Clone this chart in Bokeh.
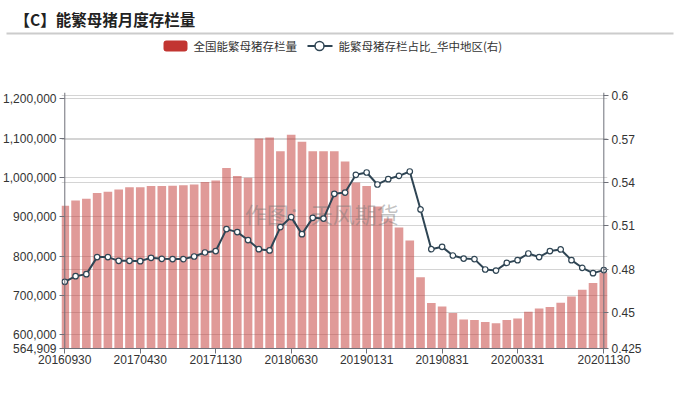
from bokeh.plotting import figure
from bokeh.layouts import column
from bokeh.models import (Range1d, LinearAxis, FixedTicker, NumeralTickFormatter,
                          CustomJSTickFormatter, Grid, Span, ColumnDataSource)
from bokeh.core.properties import value
from bokeh.embed import file_html
from bokeh.resources import INLINE

# ---------------- data ----------------
dates = [
    "20160930", "20161031", "20161130", "20161231",
    "20170131", "20170228", "20170331", "20170430", "20170531", "20170630",
    "20170731", "20170831", "20170930", "20171031", "20171130", "20171231",
    "20180131", "20180228", "20180331", "20180430", "20180531", "20180630",
    "20180731", "20180831", "20180930", "20181031", "20181130", "20181231",
    "20190131", "20190228", "20190331", "20190430", "20190531", "20190630",
    "20190731", "20190831", "20190930", "20191031", "20191130", "20191231",
    "20200131", "20200229", "20200331", "20200430", "20200531", "20200630",
    "20200731", "20200831", "20200930", "20201031", "20201130",
]
stock = [
    928000, 941500, 946000, 960500, 964000, 969500, 975000, 975000, 978500, 978500,
    979000, 980000, 982500, 988500, 992500, 1024000, 1004000, 999500, 1099500, 1101500,
    1066500, 1109000, 1091000, 1066500, 1066500, 1066500, 1041000, 987500, 978500, 926500,
    896000, 872500, 840000, 746000, 680500, 671500, 655000, 639000, 637500, 632500,
    629000, 637500, 641500, 658500, 667000, 670500, 681500, 697500, 714500, 731500, 758000,
]
share = [
    0.4712, 0.4751, 0.4765, 0.4883, 0.4883, 0.4857, 0.4857, 0.4855, 0.4878, 0.4871,
    0.4869, 0.4869, 0.4887, 0.4915, 0.4925, 0.5077, 0.5056, 0.5001, 0.4938, 0.4929,
    0.5091, 0.5160, 0.5042, 0.5155, 0.5150, 0.5321, 0.5330, 0.5453, 0.5469, 0.5386,
    0.5423, 0.5446, 0.5476, 0.5213, 0.4938, 0.4954, 0.4894, 0.4873, 0.4869, 0.4797,
    0.4790, 0.4843, 0.4862, 0.4908, 0.4883, 0.4925, 0.4936, 0.4862, 0.4809, 0.4772, 0.4793,
]
x_tick_idx = [0, 7, 14, 21, 28, 35, 42, 50]
left_ticks = [564909, 600000, 700000, 800000, 900000, 1000000, 1100000, 1200000]
right_ticks = [0.425, 0.45, 0.48, 0.51, 0.54, 0.57, 0.6]
left_min, left_max = 564909, 1216300
right_min, right_max = 0.425, 0.6023
series_names = ["全国能繁母猪存栏量", "能繁母猪存栏占比_华中地区(右)"]
title_text = "【C】能繁母猪月度存栏量"
watermark_text = "作图：天风期货"

# ---------------- layout constants (page pixels) ----------------
W = 679
H_TOP = 56
H_MAIN = 393 - H_TOP
FL, FR, FT, FB = 59, 607, 92, 348          # frame edges of the chart (page px)
C0, C1 = 62.3, 603.3                       # first / last category centre (page px)
step = (C1 - C0) / (len(dates) - 1)
x_start = -(C0 - FL) / step
x_end = (len(dates) - 1) + (FR - C1) / step

BAR = "#c23531"
LINE = "#2f4554"
AX = "#6e7079"
TXT = "#333333"
GRID = "#d4d4d4"
CJK = "Noto Sans CJK SC"
LAT = "Liberation Sans"

# ================= header figure: title, separator, legend =================
hd = figure(width=W, height=H_TOP, output_backend="svg", toolbar_location=None,
            title=None, x_axis_type=None, y_axis_type=None,
            x_range=Range1d(0, W), y_range=Range1d(H_TOP, 0),
            min_border=0)
hd.frame_align = False
hd.outline_line_color = None
hd.background_fill_color = "white"
hd.border_fill_color = "white"

hd.text(x=[14], y=[18], text=[title_text], text_font=value(CJK),
        text_font_style="bold", text_font_size="15.5px", text_color="#222222",
        text_baseline="middle", text_align="left")
hd.segment(x0=[6], y0=[33], x1=[673], y1=[33], line_color="#cccccc", line_width=2)
hd.quad(left=[163], right=[187], top=[40], bottom=[51], fill_color=BAR,
        line_color=None, border_radius=3)
hd.text(x=[193], y=[45.5], text=[series_names[0]], text_font=value(CJK),
        text_font_size="11.5px", text_color=TXT, text_baseline="middle", text_align="left")
hd.line(x=[307, 332], y=[45.5, 45.5], line_color=LINE, line_width=2)
hd.scatter(x=[319], y=[45.5], size=9, fill_color="white", line_color=LINE, line_width=1.5)
hd.text(x=[338], y=[45.5], text=[series_names[1]], text_font=value(CJK),
        text_font_size="11.5px", text_color=TXT, text_baseline="middle", text_align="left")

# ================= main chart =================
p = figure(width=W, height=H_MAIN, output_backend="svg", toolbar_location=None,
           title=None,
           x_range=Range1d(x_start, x_end),
           y_range=Range1d(left_min, left_max),
           min_border_left=FL, min_border_right=W - FR,
           min_border_top=FT - H_TOP, min_border_bottom=H_TOP + H_MAIN - FB)
p.frame_align = False
p.outline_line_color = None
p.background_fill_color = "white"
p.border_fill_color = "white"

p.extra_y_ranges = {"right": Range1d(right_min, right_max),
                    "px_y": Range1d(FB, FT)}
p.extra_x_ranges = {"px_x": Range1d(FL, FR)}

src = ColumnDataSource(dict(x=list(range(len(dates))), stock=stock, share=share))

# grids
p.xgrid.visible = False
p.ygrid.ticker = FixedTicker(ticks=left_ticks)
p.ygrid.grid_line_color = GRID
p.ygrid.grid_line_width = 1
rgrid = Grid(dimension=1, ticker=FixedTicker(ticks=right_ticks), y_range_name="right",
             grid_line_color=GRID, grid_line_width=1)
p.add_layout(rgrid)

# bars
p.vbar(x="x", top="stock", bottom=left_min, width=0.8, source=src,
       fill_color=BAR, fill_alpha=0.5, line_color=None)

# watermark (above the bars, below the line)
p.text(x=[243], y=[212], text=[watermark_text], x_range_name="px_x", y_range_name="px_y",
       text_font=value(CJK), text_font_size="22px", text_color="#777777",
       text_alpha=0.45, text_baseline="middle", text_align="left")

# line
p.line("x", "share", source=src, y_range_name="right", line_color=LINE, line_width=2)
p.scatter("x", "share", source=src, y_range_name="right", size=5.5,
          fill_color="white", line_color=LINE, line_width=1.2)

# axis lines at the first / last category centres
p.add_layout(Span(location=0, dimension="height", line_color=AX, line_width=1))
p.add_layout(Span(location=len(dates) - 1, dimension="height", line_color=AX, line_width=1))

# bottom axis
xa = p.xaxis[0]
xa.ticker = FixedTicker(ticks=x_tick_idx)
xa.major_label_overrides = {i: dates[i] for i in x_tick_idx}
xa.minor_tick_line_color = None
xa.major_tick_in = 0
xa.major_tick_out = 5
xa.major_tick_line_color = AX
xa.axis_line_color = AX
xa.major_label_standoff = 1
xa.major_label_text_font = LAT
xa.major_label_text_font_size = "12px"
xa.major_label_text_color = TXT

# left axis
ya = p.yaxis[0]
ya.ticker = FixedTicker(ticks=left_ticks)
ya.formatter = NumeralTickFormatter(format="0,0")
ya.axis_line_color = None
ya.minor_tick_line_color = None
ya.major_tick_in = 3
ya.major_tick_out = 2
ya.major_tick_line_color = AX
ya.major_label_standoff = 3
ya.major_label_text_font = LAT
ya.major_label_text_font_size = "12px"
ya.major_label_text_color = TXT

# right axis
ra = LinearAxis(y_range_name="right", ticker=FixedTicker(ticks=right_ticks),
                formatter=CustomJSTickFormatter(code="return tick.toString();"))
ra.axis_line_color = None
ra.minor_tick_line_color = None
ra.major_tick_in = 4
ra.major_tick_out = 1
ra.major_tick_line_color = AX
ra.major_label_standoff = 3
ra.major_label_text_font = LAT
ra.major_label_text_font_size = "12px"
ra.major_label_text_color = TXT
p.add_layout(ra, "right")

layout = column(hd, p, spacing=0)
open("out.html", "w").write(file_html(layout, INLINE))
